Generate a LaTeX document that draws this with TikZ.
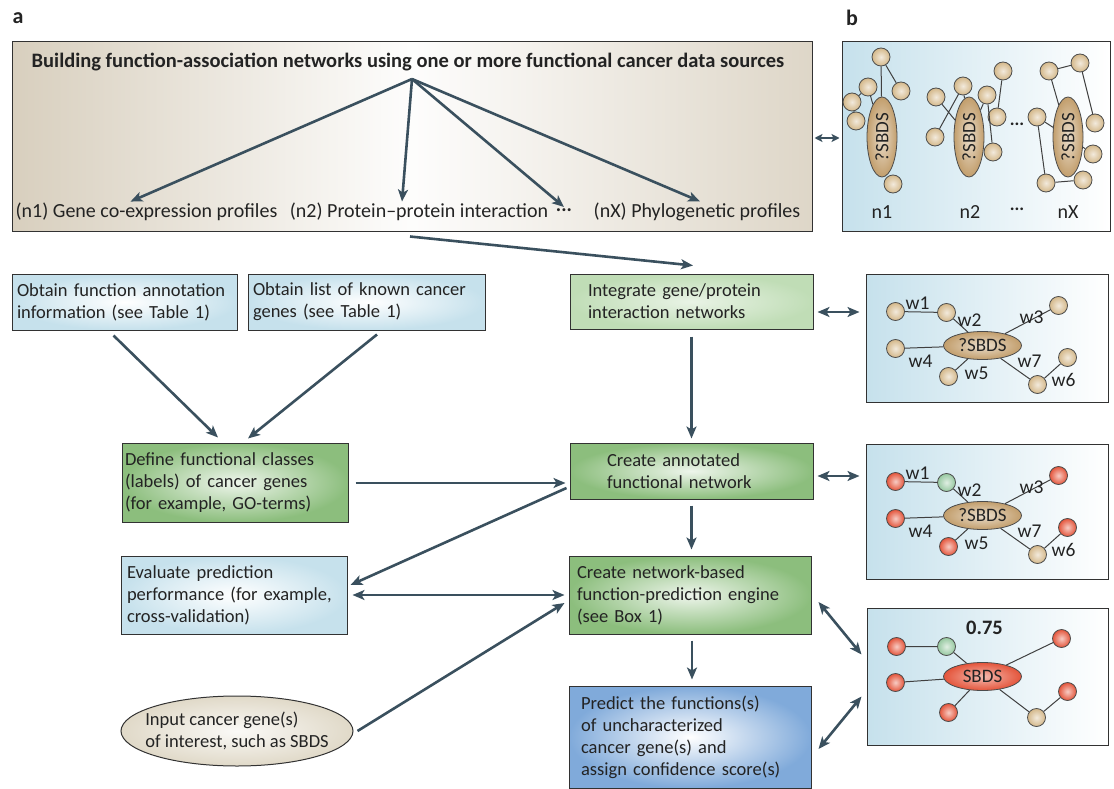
\documentclass[tikz,border=0pt]{standalone}
\usepackage{fontspec}
\setmainfont{Carlito}
\usetikzlibrary{shapes,arrows.meta,positioning,calc}

\definecolor{arrowc}{RGB}{58,80,94}
\definecolor{boxline}{RGB}{50,50,50}
\definecolor{textc}{RGB}{35,35,35}
\definecolor{tanbg}{RGB}{216,207,190}
\definecolor{lblue}{RGB}{198,225,236}
\definecolor{green1}{RGB}{140,190,125}
\definecolor{green2}{RGB}{192,221,182}
\definecolor{pblue}{RGB}{128,170,218}
\definecolor{beige}{RGB}{224,217,200}
\definecolor{tanball}{RGB}{212,184,138}
\definecolor{tanhub}{RGB}{194,158,108}
\definecolor{redball}{RGB}{228,84,58}
\definecolor{greenball}{RGB}{150,200,160}

\begin{document}
\begin{tikzpicture}[x=1pt,y=-1pt,>={Stealth[length=12pt,width=10pt,inset=3pt]},
  every node/.style={font=\fontsize{18.5}{22}\selectfont,text=textc},
  srclab/.style={font=\fontsize{20}{22}\selectfont},
  stepbox/.style={rectangle,draw=boxline,line width=1pt,align=left,inner ysep=0pt},
  bluebox/.style={stepbox,inner color=white,outer color=lblue},
  greenbox/.style={stepbox,inner color=green1!15!white,outer color=green1},
  flow/.style={draw=arrowc,line width=2.6pt,->},
  dflow/.style={flow,<->},
  panel/.style={rectangle,draw=boxline,line width=1pt,left color=lblue,right color=white},
  ball/.style={circle,draw=black!70,line width=0.8pt,minimum size=18pt,inner sep=0pt,
    inner color=#1!30!white,outer color=#1},
  hub/.style={ellipse,draw=black!70,line width=0.8pt,minimum width=78pt,minimum height=28pt,
    inner sep=0pt,inner color=tanhub!35!white,outer color=tanhub,font=\fontsize{19}{20}\selectfont},
  link/.style={draw=black!75,line width=1pt},
  wlab/.style={font=\fontsize{19.5}{20}\selectfont,inner sep=0pt},
  heading/.style={font=\fontsize{22}{24}\selectfont\bfseries}]
\useasboundingbox (0,0) rectangle (1114,789);

\node[heading] (lbla) at (18,18) {a};
\node[heading] (lblb) at (852,18) {b};

% data sources
\node[stepbox,minimum width=800,minimum height=189,
  left color=tanbg,right color=tanbg!85!white,middle color=white!96!tanbg] (sources) at (412,136.5) {};
\node[font=\fontsize{20.5}{22}\selectfont\bfseries] (title) at (408,62)
  {Building function-association networks using one or more functional cancer data sources};
\coordinate (apex) at (412,79);
\node[srclab] (n1lab) at (146.5,212) {(n1) Gene co-expression profiles};
\node[srclab] (n2lab) at (419,212) {(n2) Protein--protein interaction};
\node[font=\fontsize{20}{22}\selectfont\bfseries] (dotlab) at (564,210) {...};
\node[srclab] (nXlab) at (697,212) {(nX) Phylogenetic profiles};
\draw[flow] (apex) -- ($(n1lab.north)+(-16,2)$);
\draw[flow] (apex) -- ($(n2lab.north)+(-17,2)$);
\draw[flow] (apex) -- ($(dotlab.north)+(0,2)$);
\draw[flow] (apex) -- ($(nXlab.north)+(3,2)$);

% left column
\node[bluebox,minimum width=225,minimum height=56,text width=215,inner xsep=5] (obtainanno) at (124.5,302)
  {Obtain function annotation\\information (see Table 1)};
\node[bluebox,minimum width=237,minimum height=56,text width=227,inner xsep=5] (obtaincancer) at (366.5,302)
  {Obtain list of known cancer\\genes (see Table 1)};
\node[greenbox,minimum width=226,minimum height=79,text width=220,inner xsep=3] (defineclass) at (235,482.5)
  {Define functional classes\\(labels) of cancer genes\\(for example, GO-terms)};
\node[bluebox,minimum width=226,minimum height=78,text width=214,inner xsep=6] (evaluate) at (234,595)
  {Evaluate prediction\\performance (for example,\\cross-validation)};
\node[ellipse,draw=boxline,line width=1pt,minimum width=232,minimum height=70,inner xsep=-11pt,inner ysep=0pt,
  align=left,inner color=white!85!beige,outer color=beige] (inputgene) at (237,731)
  {Input cancer gene(s)\\of interest, such as SBDS};

% middle column
\node[stepbox,minimum width=243,minimum height=55,text width=207,inner xsep=18,
  inner color=green2!35!white,outer color=green2] (integrate) at (691.5,301.5)
  {Integrate gene/protein\\interaction networks};
\node[greenbox,minimum width=243,minimum height=56,text width=169,inner xsep=37] (annotated) at (691.5,471)
  {Create annotated\\functional network};
\node[greenbox,minimum width=242,minimum height=78,text width=226,inner xsep=8] (engine) at (690,595)
  {Create network-based\\function-prediction engine\\(see Box 1)};
\node[stepbox,minimum width=242,minimum height=102,text width=218,inner xsep=12,
  inner color=white,outer color=pblue] (predict) at (690,737)
  {Predict the functions(s)\\of uncharacterized\\cancer gene(s) and\\assign confidence score(s)};

% panel b
\node[panel,minimum width=268,minimum height=189] (netb) at (976,136.5) {};
\foreach \n/\px/\py in {1/881/57,2/868/87,3/901/91,4/852/102,5/856/121,6/893/184}
  \node[ball=tanball] (ba\n) at (\px,\py) {};
\foreach \n/\px/\py in {1/1003/71,2/963/86,3/936/97,4/987/95,5/997/117,6/935/137,7/993/152}
  \node[ball=tanball] (bb\n) at (\px,\py) {};
\foreach \n/\px/\py in {1/1080/63,2/1049/71,3/1095/123,4/1037/117,5/1093/154,6/1083/180,7/1046/183}
  \node[ball=tanball] (bc\n) at (\px,\py) {};
\node[hub,minimum width=80,minimum height=30,rotate=90] (ea) at (882,137) {?SBDS};
\node[hub,minimum width=80,minimum height=30,rotate=90] (eb) at (969,137) {?SBDS};
\node[hub,minimum width=80,minimum height=30,rotate=90] (ec) at (1068,137) {?SBDS};
\draw[link] (ba1) -- (ea) (ba1) -- (ba3) (ba2) -- (ba4) (ba4) -- (ba5) (ba2) -- (ea);
\draw[link] (bb2) -- (bb6) (bb3) -- (eb) (bb1) -- (bb5) (bb4) -- (bb7) (bb4) -- (eb) (bb2) -- (eb);
\draw[link] (bc2) -- (bc1) (bc1) -- (bc3) (bc2) -- (ec) (bc4) -- (bc7) (bc7) -- (bc6)
  (bc4) -- (ec) (bc5) -- (ec);
\node[font=\fontsize{18}{22}\selectfont\bfseries] (bdots) at (1017,124) {...};
\node[srclab] (lbn1) at (882,212) {n1};
\node[srclab] (lbn2) at (970,212) {n2};
\node[font=\fontsize{18}{22}\selectfont\bfseries] (lbdots) at (1017,209) {...};
\node[srclab] (lbnX) at (1068,212) {nX};

% integrated network
\node[panel,minimum width=242,minimum height=128] (netint) at (987,338) {};
\begin{scope}[shift={(netint.north west)}]
\foreach \n/\px/\py/\c in {1/30/38/tanball,2/81/39/tanball,3/193/32/tanball,4/30/75/tanball,
    5/83/103/tanball,6/202/84/tanball,7/172/111/tanball}
  \node[ball=\c] (int\n) at (\px,\py) {};
\node[hub] (intE) at (117,72) {?SBDS};
\draw[link] (int1) -- (int2) (int2) -- (intE) (int3) -- (intE) (int4) -- (intE)
  (int5) -- (intE) (intE) -- (int7) (int7) -- (int6);
\node[wlab] (intw1) at (52,30) {w1};
\node[wlab] (intw2) at (104,47) {w2};
\node[wlab] (intw3) at (166,44) {w3};
\node[wlab] (intw4) at (55,88) {w4};
\node[wlab] (intw5) at (111,100) {w5};
\node[wlab] (intw7) at (164,88) {w7};
\node[wlab] (intw6) at (198,106) {w6};
\end{scope}

% annotated network
\node[panel,minimum width=242,minimum height=135] (netann) at (987,511.5) {};
\begin{scope}[shift={(netann.north west)}]
\foreach \n/\px/\py/\c in {1/30/38/redball,2/81/39/greenball,3/193/32/redball,4/30/75/redball,
    5/83/103/redball,6/202/84/redball,7/172/111/tanball}
  \node[ball=\c] (ann\n) at (\px,\py) {};
\node[hub] (annE) at (117,72) {?SBDS};
\draw[link] (ann1) -- (ann2) (ann2) -- (annE) (ann3) -- (annE) (ann4) -- (annE)
  (ann5) -- (annE) (annE) -- (ann7) (ann7) -- (ann6);
\node[wlab] (annw1) at (52,30) {w1};
\node[wlab] (annw2) at (104,47) {w2};
\node[wlab] (annw3) at (166,44) {w3};
\node[wlab] (annw4) at (55,88) {w4};
\node[wlab] (annw5) at (111,100) {w5};
\node[wlab] (annw7) at (164,88) {w7};
\node[wlab] (annw6) at (198,106) {w6};
\end{scope}

% predicted network
\node[panel,minimum width=241,minimum height=137] (netpred) at (987.5,676.5) {};
\begin{scope}[shift={(netpred.north west)}]
\foreach \n/\px/\py/\c in {1/30/39/redball,2/80/39/greenball,3/195/31/redball,4/29/75/redball,
    5/82/105/redball,6/201/84/redball,7/170/110/tanball}
  \node[ball=\c] (prd\n) at (\px,\py) {};
\node[hub,inner color=redball!40!white,outer color=redball] (prdE) at (116,69) {SBDS};
\draw[link] (prd1) -- (prd2) (prd2) -- (prdE) (prd3) -- (prdE) (prd4) -- (prdE)
  (prd5) -- (prdE) (prdE) -- (prd7) (prd7) -- (prd6);
\node[font=\fontsize{20.5}{22}\selectfont\bfseries] (score) at (118,20) {0.75};
\end{scope}

% connectors
\draw[dflow,line width=2.2pt,>={Stealth[length=8pt,width=8pt,inset=2pt]}]
  ($(sources.east)+(2,1.5)$) -- ($(netb.west)+(-2,1.5)$);
\draw[flow] ($(sources.south)+(-2,5)$) -- ($(integrate.north)+(1.5,-8)$);
\draw[dflow] ($(integrate.east |- 0,312)+(4,0)$) -- ($(netint.west |- 0,312)+(-6,0)$);
\draw[flow] ($(integrate.south)+(0,7)$) -- ($(annotated.north)+(0,-4)$);
\draw[dflow] ($(annotated.east |- 0,476)+(4,0)$) -- ($(netann.west |- 0,476)+(-6,0)$);
\draw[flow] ($(obtainanno.south)+(-11,5)$) -- ($(defineclass.north)+(-17,-5)$);
\draw[flow] ($(obtaincancer.south)+(10.5,4)$) -- ($(defineclass.north)+(13,-4)$);
\draw[flow] ($(defineclass.east |- 0,483)+(7,0)$) -- ($(annotated.west |- 0,483)+(-4,0)$);
\draw[flow] ($(annotated.west)+(-3,17)$) -- ($(evaluate.east)+(3,-10)$);
\draw[dflow] ($(evaluate.east)+(5,0)$) -- ($(engine.west)+(-4,0)$);
\draw[flow] ($(inputgene.east)+(4,0)$) -- ($(engine.west)+(-4,8)$);
\draw[flow] ($(annotated.south)+(0,6)$) -- ($(annotated.south |- engine.north)+(0,-6)$);
\draw[flow] ($(engine.south)+(2,6)$) -- ($(predict.north)+(2,-6)$);
\draw[dflow] ($(engine.east)+(7,7)$) -- ($(netpred.west)+(-5,-22)$);
\draw[dflow] ($(predict.east)+(7,12)$) -- ($(netpred.west)+(-5,20)$);
\end{tikzpicture}
\end{document}
